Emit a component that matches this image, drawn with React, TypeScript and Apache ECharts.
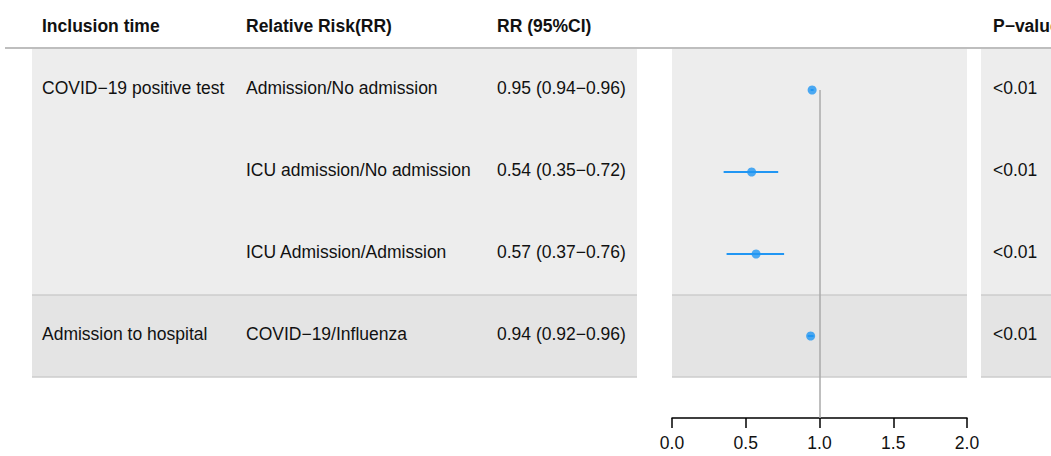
import React, { useEffect, useRef } from "react";
import * as echarts from "echarts";

const headers = ["Inclusion time", "Relative Risk(RR)", "RR (95%CI)", "P\u2212value"];
const inclusion = ["COVID\u221219 positive test", "", "", "Admission to hospital"];
const comparison = [
  "Admission/No admission",
  "ICU admission/No admission",
  "ICU Admission/Admission",
  "COVID\u221219/Influenza",
];
const rr = [0.95, 0.54, 0.57, 0.94];
const lower = [0.94, 0.35, 0.37, 0.92];
const upper = [0.96, 0.72, 0.76, 0.96];
const pvalues = ["<0.01", "<0.01", "<0.01", "<0.01"];
const ticks = [0, 0.5, 1, 1.5, 2];
const groupRows = [3, 1];

const W = 1051;
const H = 456;
const TOP = 49;
const ROW = 82;
const AXIS_Y = 418;
const FONT = "Liberation Sans, Arial, Helvetica, sans-serif";
const FS = 17.5;
const TEXT_DY = -2;
const colX = [42, 246, 497];
const pX = 993;
const panels = [
  [32, 637],
  [981, 1051],
];
const forestL = 672;
const forestR = 967;
const groupColors = ["#ededed", "#e4e4e4"];
const BLUE = "#2196f3";

export default function App() {
  const ref = useRef<HTMLDivElement>(null);
  useEffect(() => {
    if (!ref.current) return;
    const chart = echarts.init(ref.current, undefined, { renderer: "svg" });
    const rowCenter = (i: number) => TOP + ROW * (i + 0.5) + TEXT_DY;
    const graphic: any[] = [];

    // group backgrounds and separators
    let start = 0;
    groupRows.forEach((n, g) => {
      const y0 = TOP + start * ROW;
      const y1 = TOP + (start + n) * ROW;
      panels.forEach(([l, r]) => {
        graphic.push({
          type: "rect",
          z: 0,
          shape: { x: l, y: y0, width: r - l, height: y1 - y0 },
          style: { fill: groupColors[g] },
        });
      });
      [...panels, [forestL, forestR]].forEach(([l, r]) => {
        graphic.push({
          type: "line",
          z: 5,
          shape: { x1: l, y1: y1, x2: r, y2: y1 },
          style: { stroke: "#cccccc", lineWidth: 1.5 },
        });
      });
      start += n;
    });

    // header
    headers.slice(0, 3).forEach((h, c) => {
      graphic.push({
        type: "text",
        z: 6,
        x: colX[c],
        y: 26,
        style: { text: h, font: `bold ${FS}px ${FONT}`, fill: "#111", verticalAlign: "middle" },
      });
    });
    graphic.push({
      type: "text",
      z: 6,
      x: pX,
      y: 26,
      style: { text: headers[3], font: `bold ${FS}px ${FONT}`, fill: "#111", verticalAlign: "middle" },
    });
    graphic.push({
      type: "line",
      z: 6,
      shape: { x1: 5, y1: 48, x2: W, y2: 48 },
      style: { stroke: "#a8a8a8", lineWidth: 1.5 },
    });

    // rows
    comparison.forEach((_, i) => {
      const cells = [
        inclusion[i],
        comparison[i],
        `${rr[i].toFixed(2)} (${lower[i].toFixed(2)}\u2212${upper[i].toFixed(2)})`,
      ];
      cells.forEach((t, c) => {
        if (!t) return;
        graphic.push({
          type: "text",
          z: 6,
          x: colX[c],
          y: rowCenter(i),
          style: { text: t, font: `${FS}px ${FONT}`, fill: "#111", verticalAlign: "middle" },
        });
      });
      graphic.push({
        type: "text",
        z: 6,
        x: pX,
        y: rowCenter(i),
        style: { text: pvalues[i], font: `${FS}px ${FONT}`, fill: "#111", verticalAlign: "middle" },
      });
    });

    const yMax = (AXIS_Y - TOP) / ROW;
    const points = rr.map((v, i) => [v, i + 0.5]);
    const cis = rr.map((_, i) => [lower[i], upper[i], i + 0.5]);

    const areas: any[] = [];
    let s = 0;
    groupRows.forEach((n, g) => {
      areas.push([
        { coord: [ticks[0], s], itemStyle: { color: groupColors[g] } },
        { coord: [ticks[ticks.length - 1], s + n] },
      ]);
      s += n;
    });

    chart.setOption({
      animation: false,
      grid: {
        left: forestL,
        right: W - forestR,
        top: TOP,
        bottom: H - AXIS_Y,
        containLabel: false,
        outerBoundsMode: "none",
      },
      xAxis: {
        type: "value",
        min: ticks[0],
        max: ticks[ticks.length - 1],
        interval: 0.5,
        axisLine: { show: true, onZero: false, lineStyle: { color: "#000", width: 1.5 } },
        axisTick: { show: true, inside: false, length: 10, lineStyle: { color: "#000", width: 1.5 } },
        axisLabel: {
          show: true,
          margin: 16,
          fontFamily: FONT,
          fontSize: FS,
          color: "#111",
          formatter: (v: number) => v.toFixed(1),
        },
        splitLine: { show: false },
      },
      yAxis: {
        type: "value",
        min: 0,
        max: yMax,
        inverse: true,
        show: false,
      },
      graphic,
      series: [
        {
          type: "custom",
          z: 3,
          data: cis,
          renderItem: (params: any, api: any) => {
            const a = api.coord([api.value(0), api.value(2)]);
            const b = api.coord([api.value(1), api.value(2)]);
            return {
              type: "line",
              shape: { x1: a[0], y1: a[1], x2: b[0], y2: b[1] },
              style: { stroke: BLUE, lineWidth: 2 },
            };
          },
          markArea: { silent: true, data: areas },
          markLine: {
            silent: true,
            symbol: "none",
            label: { show: false },
            lineStyle: { color: "#aaaaaa", width: 1.5, type: "solid" },
            data: [[{ coord: [1, 0.5] }, { coord: [1, yMax] }]],
          },
        },
        {
          type: "scatter",
          z: 4,
          data: points,
          symbol: "circle",
          symbolSize: 9,
          itemStyle: { color: BLUE },
        },
      ],
    });
    return () => chart.dispose();
  }, []);
  return (
    <div
      ref={ref}
      style={{ position: "absolute", left: 0, top: 0, width: W, height: H, background: "#fff" }}
    />
  );
}
